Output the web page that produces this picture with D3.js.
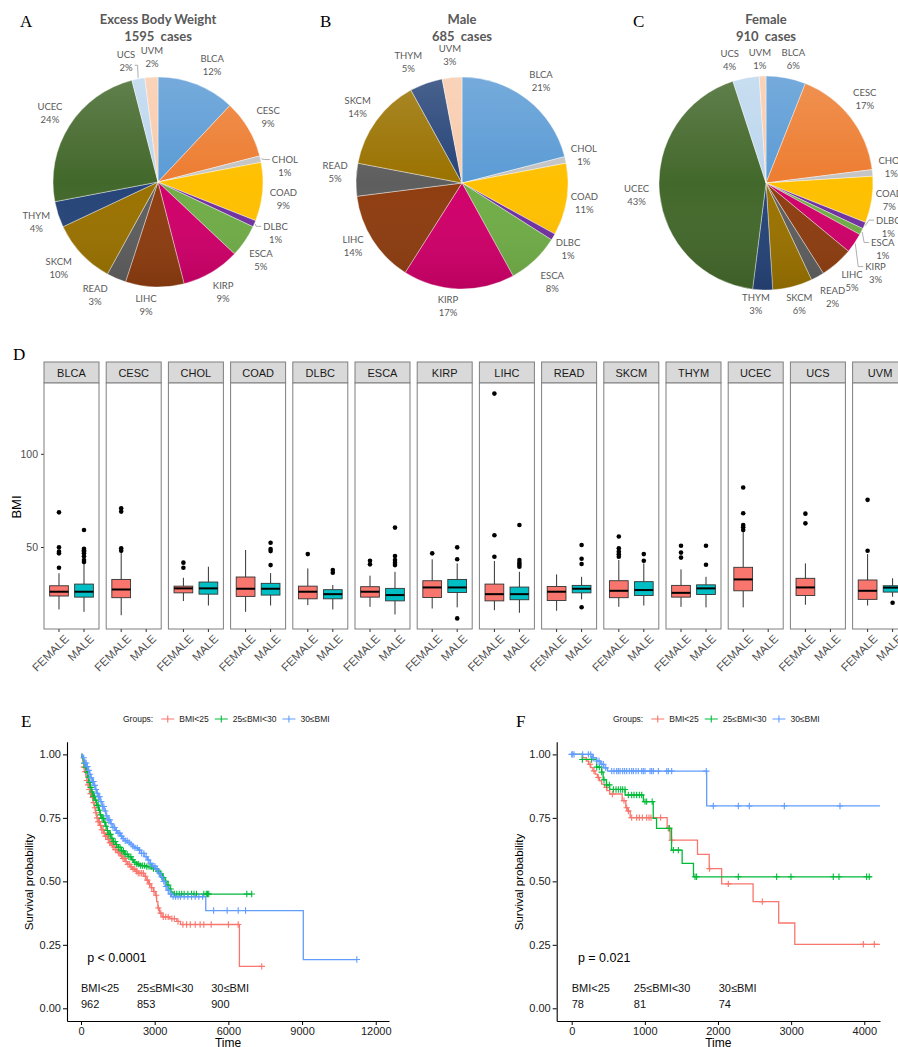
<!DOCTYPE html>
<html>
<head>
<meta charset="utf-8">
<script src="https://cdn.jsdelivr.net/npm/d3@7"></script>
<style>
  body { margin: 0; background: #fff; }
  svg { display: block; }
</style>
</head>
<body>
<script>
// ---------- data: pies (percent of cases) ----------
var pieExcess = [["BLCA",12],["CESC",9],["CHOL",1],["COAD",9],["DLBC",1],["ESCA",5],["KIRP",9],
                 ["LIHC",9],["READ",3],["SKCM",10],["THYM",4],["UCEC",24],["UCS",2],["UVM",2]];
var pieMale = [["BLCA",21],["CHOL",1],["COAD",11],["DLBC",1],["ESCA",8],["KIRP",17],["LIHC",14],
               ["READ",5],["SKCM",14],["THYM",5],["UVM",3]];
var pieFemale = [["BLCA",6],["CESC",17],["CHOL",1],["COAD",7],["DLBC",1],["ESCA",1],["KIRP",3],
                 ["LIHC",5],["READ",2],["SKCM",6],["THYM",3],["UCEC",43],["UCS",4],["UVM",1]];

// ---------- data: BMI boxplots  [lower whisker, q1, median, q3, upper whisker] ----------
var cancers = ["BLCA","CESC","CHOL","COAD","DLBC","ESCA","KIRP","LIHC","READ","SKCM","THYM","UCEC","UCS","UVM"];
var sexes = ["FEMALE","MALE"];
var femaleBox = [[16.5,23.7,26.0,29.2,35.9],[13.4,22.8,27.2,32.6,47.5],[21.0,25.4,27.8,29.0,33.5],
                 [15.2,23.5,27.6,33.9,48.4],[18.8,22.2,26.0,29.0,38.5],[17.9,23.1,26.0,28.7,34.6],
                 [17.0,22.9,28.3,31.9,43.4],[16.1,21.1,24.7,30.1,42.5],[15.8,21.3,26.0,28.8,35.3],
                 [17.9,22.8,26.5,31.9,43.0],[17.9,23.1,25.4,29.4,38.0],[17.6,26.5,32.6,39.1,58.0],
                 [19.0,24.0,28.3,33.2,41.2],[18.6,21.9,26.5,32.3,46.2]];
var femaleOut = [[68.6,49.8,47.5,46.6,38.9],[70.8,69.0,49.3,48.0],[41.6,38.9],[],[46.2],[42.6,40.7],[46.6],
                 [132.3,56.3,44.8],[],[55.6,49.3,47.5,46.1,44.8],[50.7,47.0,44.3],[81.9,68.1,61.8,60.6,59.1],
                 [67.9,62.7],[75.3,48.0]];
var maleBox = [[15.2,23.1,26.0,30.1,41.2],null,[18.6,24.7,27.8,31.2,39.4],[18.6,24.2,27.6,30.5,36.0],
               [16.5,22.2,24.7,27.1,29.6],[13.8,21.1,24.2,27.8,36.7],[17.6,25.6,28.3,32.6,41.2],
               [14.7,21.7,24.7,28.5,36.7],[21.9,25.4,27.6,29.4,34.0],[18.6,24.0,26.9,31.4,41.2],
               [17.6,24.5,27.8,29.7,34.0],null,null,[23.3,25.8,28.2,29.2,33.2]];
var maleOut = [[59.1,49.0,48.2,47.6,46.6,45.0,43.0,42.0],[],[],[52.3,48.9,47.8,40.3],[37.6,36.2],
               [60.4,45.2,43.0,41.5,40.3],[49.8,43.4,11.7],[61.8,43.0,41.6,40.5,39.4],[51.1,43.7,40.9,17.7],
               [46.2,42.6],[50.7,40.5],[],[],[20.1]];

// ---------- data: Kaplan-Meier, all patients (E) ----------
var groupNames = ["BMI<25","25\u2264BMI<30","30\u2264BMI"];
var kmE_low = [[0,1],[40,0.985],[80,0.968],[120,0.95],[160,0.932],[200,0.914],[240,0.897],[290,0.88],
  [340,0.862],[390,0.845],[440,0.83],[490,0.81],[540,0.79],[590,0.77],[640,0.75],[700,0.735],[770,0.72],
  [840,0.703],[920,0.69],[1000,0.678],[1080,0.665],[1160,0.652],[1240,0.642],[1320,0.635],[1400,0.625],
  [1500,0.613],[1600,0.6],[1700,0.59],[1800,0.578],[1900,0.567],[2000,0.557],[2100,0.548],[2200,0.54],
  [2320,0.532],[2560,0.52],[2650,0.505],[2750,0.49],[2850,0.475],[2950,0.46],[3030,0.445],[3080,0.42],
  [3130,0.395],[3200,0.375],[3300,0.36],[3600,0.353],[3900,0.342],[4050,0.33],[6450,0.165]];
var kmE_mid = [[0,1],[40,0.99],[80,0.978],[120,0.965],[170,0.95],[220,0.93],[270,0.91],[320,0.89],
  [380,0.87],[440,0.852],[500,0.835],[570,0.82],[640,0.8],[710,0.78],[780,0.762],[850,0.748],[920,0.733],
  [990,0.717],[1060,0.7],[1140,0.685],[1220,0.67],[1300,0.657],[1400,0.645],[1520,0.634],[1640,0.62],
  [1780,0.607],[1920,0.597],[2050,0.585],[2150,0.575],[2270,0.568],[2400,0.562],[2650,0.558],[2900,0.55],
  [3100,0.54],[3220,0.53],[3320,0.515],[3420,0.5],[3500,0.485],[3580,0.47],[3660,0.458],[3750,0.45]];
var kmE_high = [[0,1],[40,0.995],[80,0.987],[120,0.977],[160,0.966],[220,0.952],[280,0.937],[340,0.922],
  [400,0.908],[460,0.893],[520,0.878],[580,0.862],[640,0.847],[700,0.833],[780,0.814],[860,0.795],
  [940,0.777],[1020,0.758],[1100,0.742],[1200,0.727],[1300,0.712],[1400,0.7],[1500,0.69],[1600,0.678],
  [1700,0.668],[1800,0.66],[1900,0.653],[2000,0.646],[2100,0.638],[2200,0.632],[2330,0.623],[2450,0.61],
  [2570,0.597],[2700,0.584],[2810,0.571],[2920,0.56],[3020,0.548],[3120,0.533],[3220,0.518],[3320,0.5],
  [3420,0.48],[3500,0.465],[3580,0.45],[3680,0.44],[5080,0.385],[9050,0.192]];
var kmE_end = [7360, 6950, 11230];
var censE_low = [120,180,240,290,340,390,430,480,520,570,610,660,700,750,800,850,900,950,1000,1060,1110,
  1170,1220,1280,1340,1400,1460,1520,1580,1650,1710,1780,1840,1910,1980,2050,2120,2190,2260,2330,2400,2470,
  2540,2620,2700,2790,2880,2970,3060,3150,3250,3350,3450,3550,3700,3800,3950,4150,4300,4450,4650,4850,5000,
  5300,6000,6400,7360];
var censE_mid = [130,190,250,300,350,400,450,500,550,600,650,700,750,800,860,910,970,1020,1080,1140,1200,
  1260,1320,1390,1450,1520,1590,1660,1730,1800,1880,1950,2030,2110,2190,2270,2350,2430,2510,2590,2680,2770,
  2860,2950,3050,3150,3250,3350,3450,3550,3650,3800,3900,4000,4100,4200,4350,4500,4600,4700,5000,5100,5150,
  5200,6750,6950];
var censE_high = [110,160,210,260,310,360,410,460,510,560,610,660,710,760,820,870,930,990,1050,1110,1170,
  1230,1300,1370,1440,1510,1580,1650,1720,1800,1880,1960,2040,2120,2200,2290,2380,2470,2560,2650,2740,2830,
  2920,3010,3100,3190,3280,3370,3460,3550,3650,3750,3850,3950,4050,4200,4350,4500,4650,4800,4950,5400,5950,
  6400,6700,11230];
var nE = [962, 853, 900];

// ---------- data: Kaplan-Meier, subgroup (F) ----------
var kmF_low = [[0,1],[150,0.987],[200,0.974],[230,0.961],[260,0.948],[290,0.935],[320,0.922],[350,0.909],
  [380,0.896],[410,0.883],[450,0.87],[480,0.857],[520,0.844],[690,0.818],[740,0.79],[760,0.777],[800,0.751],
  [1305,0.709],[1345,0.662],[1720,0.606],[1880,0.55],[2050,0.49],[2480,0.42],[2830,0.336],[3050,0.252]];
var kmF_mid = [[0,1],[145,0.98],[340,0.95],[410,0.93],[430,0.9],[475,0.88],[520,0.862],[730,0.84],[980,0.814],
  [1115,0.748],[1160,0.709],[1365,0.623],[1510,0.571],[1665,0.518]];
var kmF_high = [[0,1],[280,0.987],[340,0.974],[390,0.961],[440,0.947],[490,0.934],[1845,0.797]];
var kmF_end = [4214, 4100, 4214];
var censF_low = [251,305,364,478,556,715,752,775,820,888,925,966,1025,1057,1084,1216,1320,1367,1885,2141,
  2606,3987,4137];
var censF_mid = [146,273,342,378,410,442,478,515,570,606,638,670,697,729,774,820,852,888,925,957,1002,1025,
  1100,1335,1390,1458,1686,1708,2278,2802,2998,3576,3654,4032,4068];
var censF_high = [0,14,32,150,228,260,296,342,374,410,433,465,547,579,615,638,661,697,724,752,788,820,843,879,
  911,957,979,1002,1071,1093,1116,1185,1299,1321,1367,1840,1936,2278,2428,2907,3668];
var nF = [78, 81, 74];

// ---------- styles ----------
var pieColors = {BLCA:"#5B9BD5", CESC:"#ED7D31", CHOL:"#C4C4C4", COAD:"#FFC000", DLBC:"#7030A0",
  ESCA:"#70AD47", KIRP:"#D0006A", LIHC:"#8E3D10", READ:"#5E5E5E", SKCM:"#9A7200", THYM:"#264478",
  UCEC:"#43682B", UCS:"#BDD7EE", UVM:"#F8CBAD"};
var sexColors = {FEMALE:"#F8766D", MALE:"#00BFC4"};
var kmColors = ["#F8766D","#00BA38","#619CFF"];
var sansFont = "'Liberation Sans', Arial, sans-serif";
var pieFont = "Lato, 'Open Sans', sans-serif";
var serifFont = "'Liberation Serif', 'Times New Roman', serif";

var width = 898, height = 1047;
var svg = d3.select("body").append("svg")
  .attr("width", width)
  .attr("height", height)
  .style("background", "#fff");

var defs = svg.append("defs");
var shade = defs.append("linearGradient").attr("id", "pieShade")
  .attr("x1", 0).attr("y1", 0).attr("x2", 0).attr("y2", 1);
shade.append("stop").attr("offset", "0%").attr("stop-color", "#fff").attr("stop-opacity", 0.16);
shade.append("stop").attr("offset", "50%").attr("stop-color", "#fff").attr("stop-opacity", 0);
shade.append("stop").attr("offset", "100%").attr("stop-color", "#000").attr("stop-opacity", 0.10);

function panelLetter(x, y, txt) {
  svg.append("text").attr("x", x).attr("y", y).text(txt)
    .attr("font-family", serifFont).attr("font-size", 17).attr("fill", "#000");
}

// ---------- pies ----------
function drawPie(spec) {
  var pie = d3.pie().sort(null).value(d => d[1]);
  var arcs = pie(spec.data);
  var arc = d3.arc().innerRadius(0).outerRadius(spec.r);
  var g = svg.append("g").attr("transform", "translate(" + spec.cx + "," + spec.cy + ")");

  g.selectAll("path.slice")
    .data(arcs)
    .join("path")
      .attr("class", "slice")
      .attr("d", arc)
      .attr("fill", d => pieColors[d.data[0]])
      .attr("stroke", "#fff")
      .attr("stroke-width", 0.4);
  g.append("circle").attr("r", spec.r).attr("fill", "url(#pieShade)");

  arcs.forEach(a => {
    var name = a.data[0];
    var mid = (a.startAngle + a.endAngle) / 2;
    var R = spec.r + 23;
    var nd = spec.nudge[name] || [0, 0];
    var lx = R * Math.sin(mid) + nd[0];
    var ly = -R * Math.cos(mid) + nd[1];
    var t1 = g.append("text").attr("x", lx).attr("y", ly - 6.5).text(name);
    var t2 = g.append("text").attr("x", lx).attr("y", ly + 6.5).text(a.data[1] + "%");
    [t1, t2].forEach(t => t.attr("text-anchor", "middle").attr("dominant-baseline", "central")
      .attr("font-family", pieFont).attr("font-size", 9.5).attr("fill", "#595959"));
    if (spec.leaders.indexOf(name) >= 0) {
      var sx = (spec.r + 1) * Math.sin(mid), sy = -(spec.r + 1) * Math.cos(mid);
      var pts;
      if (lx > sx) {
        var ex = lx - t1.node().getComputedTextLength() / 2 - 2;
        pts = [[sx, sy], [Math.max(sx, ex - 5), ly - 6.5], [ex, ly - 6.5]];
      } else {
        var ex2 = lx + t2.node().getComputedTextLength() / 2 + 2;
        pts = [[ex2, ly + 4], [ex2 + 3, ly + 4], [sx, sy]];
      }
      g.append("path").attr("d", d3.line()(pts))
        .attr("fill", "none").attr("stroke", "#a6a6a6").attr("stroke-width", 0.9);
    }
  });

  [spec.title, spec.cases].forEach((t, i) => {
    svg.append("text").attr("x", spec.cx).attr("y", 24 + i * 17).text(t)
      .attr("text-anchor", "middle").attr("font-family", pieFont).attr("font-weight", "bold")
      .attr("font-size", 13).attr("fill", "#595959").attr("xml:space", "preserve");
  });
}

drawPie({data: pieExcess, cx: 158, cy: 182, r: 105, title: "Excess Body Weight", cases: "1595  cases",
  nudge: {BLCA:[7,2], CHOL:[2,12], COAD:[-2,5], ESCA:[-3,6], LIHC:[-8,-5], READ:[-12,-4], SKCM:[-6,-2], UCS:[-8,5], UVM:[2,3]},
  leaders: ["CHOL","DLBC","UCS"]});
drawPie({data: pieMale, cx: 462, cy: 183, r: 106, title: "Male", cases: "685  cases",
  nudge: {CHOL:[-4,0], COAD:[-5,0], DLBC:[-5,0], ESCA:[2,5], KIRP:[-10,-6], LIHC:[0,-6], READ:[2,-7], THYM:[-10,0]},
  leaders: []});
drawPie({data: pieFemale, cx: 766, cy: 183, r: 107, title: "Female", cases: "910  cases",
  nudge: {BLCA:[3,4], CESC:[-4,-4], CHOL:[-4,-4], COAD:[-5,-3], DLBC:[3,-8], ESCA:[1,7], KIRP:[2,17],
          READ:[4,0], SKCM:[1,-5], THYM:[-6,-9], UCS:[-12,5], UVM:[-2,6]},
  leaders: ["DLBC","ESCA","KIRP"]});

panelLetter(20, 27, "A");
panelLetter(320, 27, "B");
panelLetter(633, 27, "C");

// ---------- D: BMI boxplots ----------
panelLetter(13, 360, "D");

var facetX = d3.scaleBand().domain(cancers)
  .range([44, 44 + 14 * 62.2 - 7.2]).paddingInner(0.1158).paddingOuter(0);
var sexX = d3.scalePoint().domain(sexes).range([0, facetX.bandwidth()]).padding(0.6);
var bmiY = d3.scaleLinear().domain([6, 138]).range([629, 383]);
var boxW = sexX.step() * 0.75;

var yAxisD = svg.append("g").attr("transform", "translate(44,0)")
  .call(d3.axisLeft(bmiY).tickValues([50, 100]).tickSize(3).tickPadding(3));
yAxisD.select(".domain").remove();
yAxisD.selectAll("line").attr("stroke", "#333");
yAxisD.selectAll("text").attr("font-family", sansFont).attr("font-size", 10.5).attr("fill", "#4d4d4d");

svg.append("text").attr("transform", "translate(21,507) rotate(-90)")
  .attr("text-anchor", "middle").attr("font-family", sansFont).attr("font-size", 13)
  .attr("fill", "#000").text("BMI");

cancers.forEach((c, i) => {
  var px = facetX(c);
  var g = svg.append("g").attr("transform", "translate(" + px + ",0)");
  g.append("rect").attr("x", 0).attr("y", 362).attr("width", facetX.bandwidth()).attr("height", 21)
    .attr("fill", "#d9d9d9").attr("stroke", "#7f7f7f").attr("stroke-width", 1);
  g.append("text").attr("x", facetX.bandwidth() / 2).attr("y", 373).text(c)
    .attr("text-anchor", "middle").attr("dominant-baseline", "central")
    .attr("font-family", sansFont).attr("font-size", 11).attr("fill", "#1a1a1a");
  g.append("rect").attr("x", 0).attr("y", bmiY.range()[1]).attr("width", facetX.bandwidth())
    .attr("height", bmiY.range()[0] - bmiY.range()[1])
    .attr("fill", "#fff").attr("stroke", "#7f7f7f").attr("stroke-width", 1);

  var stats = {FEMALE: femaleBox[i], MALE: maleBox[i]};
  var outs = {FEMALE: femaleOut[i], MALE: maleOut[i]};
  sexes.forEach(s => {
    var cx = sexX(s);
    g.append("line").attr("x1", cx).attr("x2", cx).attr("y1", 629).attr("y2", 632)
      .attr("stroke", "#333");
    g.append("text")
      .attr("transform", "translate(" + (cx + 5) + ",634) rotate(-45)")
      .attr("text-anchor", "end").attr("dominant-baseline", "hanging")
      .attr("font-family", sansFont).attr("font-size", 11.5).attr("fill", "#4d4d4d").text(s);
    var b = stats[s];
    if (!b) return;
    g.append("line").attr("x1", cx).attr("x2", cx).attr("y1", bmiY(b[0])).attr("y2", bmiY(b[1]))
      .attr("stroke", "#333").attr("stroke-width", 1);
    g.append("line").attr("x1", cx).attr("x2", cx).attr("y1", bmiY(b[3])).attr("y2", bmiY(b[4]))
      .attr("stroke", "#333").attr("stroke-width", 1);
    g.append("rect").attr("x", cx - boxW / 2).attr("width", boxW)
      .attr("y", bmiY(b[3])).attr("height", bmiY(b[1]) - bmiY(b[3]))
      .attr("fill", sexColors[s]).attr("stroke", "#333").attr("stroke-width", 0.9);
    g.append("line").attr("x1", cx - boxW / 2).attr("x2", cx + boxW / 2)
      .attr("y1", bmiY(b[2])).attr("y2", bmiY(b[2]))
      .attr("stroke", "#000").attr("stroke-width", 2);
    g.selectAll(null).data(outs[s]).join("circle")
      .attr("cx", cx).attr("cy", d => bmiY(d)).attr("r", 2.3).attr("fill", "#000");
  });
});

// ---------- E / F: Kaplan-Meier ----------
function survAt(steps, t) {
  var v = steps[0][1];
  steps.forEach(p => { if (p[0] <= t) v = p[1]; });
  return v;
}

function drawKM(spec) {
  var x = d3.scaleLinear().domain(spec.xDomain).range(spec.xRange);
  var y = d3.scaleLinear().domain([-0.05, 1.05]).range([1021, 741.7]);
  var g = svg.append("g");

  spec.curves.forEach((steps, i) => {
    var pts = steps.concat([[spec.ends[i], steps[steps.length - 1][1]]]);
    g.append("path").datum(pts)
      .attr("d", d3.line().x(d => x(d[0])).y(d => y(d[1])).curve(d3.curveStepAfter))
      .attr("fill", "none").attr("stroke", kmColors[i]).attr("stroke-width", 1.3);
    spec.censors[i].forEach(t => {
      var px = x(t), py = y(survAt(steps, t));
      g.append("path").attr("d", "M" + (px - 3.2) + "," + py + "H" + (px + 3.2) + "M" + px + "," + (py - 3.2) + "V" + (py + 3.2))
        .attr("stroke", kmColors[i]).attr("stroke-width", 1.1);
    });
  });

  var ya = g.append("g").attr("transform", "translate(" + spec.xRange[0] + ",0)")
    .call(d3.axisLeft(y).tickValues([0, 0.25, 0.5, 0.75, 1]).tickFormat(d3.format(".2f"))
      .tickSize(4).tickPadding(2).tickSizeOuter(0));
  var xa = g.append("g").attr("transform", "translate(0,1021)")
    .call(d3.axisBottom(x).tickValues(spec.xTicks).tickFormat(d3.format("d"))
      .tickSize(4).tickPadding(2).tickSizeOuter(0));
  [ya, xa].forEach(a => {
    a.select(".domain").attr("stroke", "#000").attr("stroke-width", 1.1);
    a.selectAll("line").attr("stroke", "#000");
    a.selectAll("text").attr("font-family", sansFont).attr("font-size", 11).attr("fill", "#222");
  });

  var xMid = (spec.xRange[0] + spec.xRange[1]) / 2;
  g.append("text").attr("x", xMid).attr("y", 1047).attr("text-anchor", "middle")
    .attr("font-family", sansFont).attr("font-size", 12).attr("fill", "#000").text("Time");
  g.append("text").attr("transform", "translate(" + (spec.xRange[0] - 34) + ",882) rotate(-90)")
    .attr("text-anchor", "middle").attr("font-family", sansFont).attr("font-size", 11.5)
    .attr("fill", "#000").text("Survival probability");

  g.append("text").attr("x", x(spec.pPos[0])).attr("y", y(spec.pPos[1]))
    .attr("dominant-baseline", "central")
    .attr("font-family", sansFont).attr("font-size", 12.5).attr("fill", "#000").text(spec.pText);

  spec.tablePos.forEach((t, i) => {
    g.append("text").attr("x", x(t)).attr("y", 988).attr("dominant-baseline", "central")
      .attr("font-family", sansFont).attr("font-size", 11).attr("fill", "#111").text(groupNames[i]);
    g.append("text").attr("x", x(t)).attr("y", 1004).attr("dominant-baseline", "central")
      .attr("font-family", sansFont).attr("font-size", 11).attr("fill", "#111").text(spec.counts[i]);
  });

  // legend
  var lx = spec.legendX, ly = 719;
  var lt = g.append("text").attr("x", lx).attr("y", ly).attr("dominant-baseline", "central")
    .attr("font-family", sansFont).attr("font-size", 8.5).attr("fill", "#222").text("Groups:");
  lx += lt.node().getComputedTextLength() + 8;
  groupNames.forEach((nm, i) => {
    g.append("path").attr("d", "M" + lx + "," + ly + "H" + (lx + 13) + "M" + (lx + 6.5) + "," + (ly - 3.5) + "V" + (ly + 3.5))
      .attr("stroke", kmColors[i]).attr("stroke-width", 1.1);
    lx += 18;
    var t = g.append("text").attr("x", lx).attr("y", ly).attr("dominant-baseline", "central")
      .attr("font-family", sansFont).attr("font-size", 8.5).attr("fill", "#222").text(nm);
    lx += t.node().getComputedTextLength() + 6;
  });
}

panelLetter(21, 727, "E");
drawKM({xDomain: [-570, 12540], xRange: [67, 389], xTicks: [0, 3000, 6000, 9000, 12000],
  curves: [kmE_low, kmE_mid, kmE_high], ends: kmE_end, censors: [censE_low, censE_mid, censE_high],
  counts: nE, pText: "p < 0.0001", pPos: [250, 0.2], tablePos: [0, 2280, 5300], legendX: 123});

panelLetter(516, 727, "F");
drawKM({xDomain: [-205, 4215], xRange: [556.7, 880], xTicks: [0, 1000, 2000, 3000, 4000],
  curves: [kmF_low, kmF_mid, kmF_high], ends: kmF_end, censors: [censF_low, censF_mid, censF_high],
  counts: nF, pText: "p = 0.021", pPos: [85, 0.2], tablePos: [0, 850, 2010], legendX: 613});
</script>
</body>
</html>
